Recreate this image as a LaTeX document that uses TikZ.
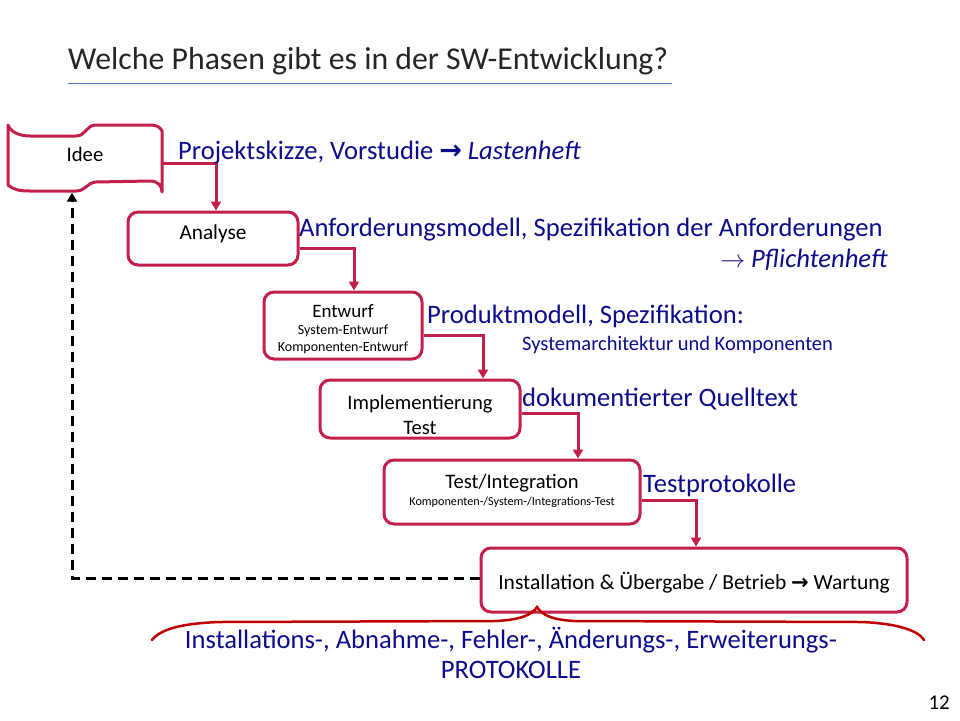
\documentclass[tikz,border=0pt]{standalone}
\usepackage{fontspec}
\setmainfont{Carlito}
\newfontfamily\arrowfont{DejaVu Sans}
\usetikzlibrary{arrows.meta,calc}
\definecolor{boxred}{RGB}{196,30,74}
\definecolor{navy}{RGB}{12,12,140}
\definecolor{bracered}{RGB}{192,0,0}
\definecolor{titlegray}{RGB}{38,38,38}
\definecolor{rulecol}{RGB}{79,129,189}
\begin{document}
\begin{tikzpicture}[x=1pt,y=-1pt,
  phase/.style={draw=boxred,line width=3pt,rounded corners=10pt,fill=white,inner sep=0pt},
  boxtxt/.style={inner sep=0pt,align=center,font=\fontsize{21}{24}\selectfont},
  conn/.style={draw=boxred,line width=3pt,-{Triangle[length=9pt,width=10pt]}},
  back/.style={draw=black,line width=3pt,dash pattern=on 10pt off 6pt,-{Triangle[length=9pt,width=10pt]}},
  bluetxt/.style={text=navy,inner sep=0pt,font=\fontsize{26.6}{30}\selectfont}]
\useasboundingbox[fill=white] (0,0) rectangle (960,720);

% title
\node[anchor=base west,inner sep=0pt,text=titlegray,font=\fontsize{31.8}{36}\selectfont] (title) at (68,69) {Welche Phasen gibt es in der SW-Entwicklung?};
\draw[rulecol,line width=1pt] (68,83) -- (672,83);

% Idee (tape shape)
\draw[boxred,line width=3pt,line join=round,fill=white] (8,125) -- (8,185) .. controls (14,190) and (20,191) .. (30,191) -- (76,191) .. controls (86,191) and (86,183) .. (96,182) -- (150,181) .. controls (158,181) and (162,186) .. (162,192) -- (162,131) .. controls (160,127) and (157,125) .. (150,125) -- (96,125) .. controls (86,125) and (86,136) .. (76,136) -- (30,136) .. controls (18,136) and (10,131) .. (8,125) -- cycle;
\node[minimum width=154pt,minimum height=68pt,inner sep=0pt] (idee) at (85,158.5) {};
\node[boxtxt,font=\fontsize{20.7}{24}\selectfont] (ideetxt) at ([yshift=4pt]idee.center) {Idee};

% phases
\node[phase,minimum width=170pt,minimum height=53pt] (analyse) at (213,238.5) {};
\node[boxtxt,font=\fontsize{21.3}{24}\selectfont] (analysetxt) at ([yshift=4.5pt]analyse.center) {Analyse};

\node[phase,minimum width=158pt,minimum height=67pt] (entwurf) at (343,325.5) {};
\node[boxtxt,font=\fontsize{14}{17}\selectfont] (entwurftxt) at ([yshift=-4pt]entwurf.center) {{\fontsize{19}{22}\selectfont Entwurf}\\System-Entwurf\\Komponenten-Entwurf};

\node[phase,minimum width=200pt,minimum height=58pt] (impl) at (420,409) {};
\node[boxtxt,font=\fontsize{20.6}{25}\selectfont] (impltxt) at ([yshift=-5.5pt]impl.center) {Implementierung\\Test};

\node[phase,minimum width=256pt,minimum height=64pt] (testint) at (512,492) {};
\node[boxtxt,font=\fontsize{12.2}{17}\selectfont] (testinttxt) at ([yshift=1.5pt]testint.center) {{\fontsize{20.6}{22}\selectfont Test/Integration}\\Komponenten-/System-/Integrations-Test};

\node[phase,minimum width=426pt,minimum height=64pt] (install) at (694,580) {};
\node[boxtxt,font=\fontsize{21.5}{24}\selectfont] (installtxt) at ([yshift=-2.5pt]install.center) {Installation \& Übergabe / Betrieb {\arrowfont\bfseries\fontsize{21}{24}\selectfont →} Wartung};

% connectors
\draw[conn] ([yshift=-5pt]idee.east) -| ([xshift=3pt]analyse.north);
\draw[conn] ([yshift=-9.5pt]analyse.east) -| ([xshift=11pt]entwurf.north);
\draw[conn] ([yshift=-9.5pt]entwurf.east) -| ([xshift=63pt]impl.north);
\draw[conn] ([yshift=-4pt]impl.east) -| ([xshift=66pt]testint.north);
\draw[conn] ([yshift=-8pt]testint.east) -| ([xshift=2pt]install.north);
\draw[back] ([yshift=2pt]install.west) -| ([xshift=-13pt]idee.south);

% brace
\draw[bracered,line width=2.5pt,line cap=round] (152,640) .. controls (162,627) and (190,623) .. (220,622) -- (495,621) .. controls (520,620) and (532,615) .. (537,607) .. controls (542,615) and (552,620) .. (575,621) -- (860,622) .. controls (895,623) and (918,630) .. (924,640);

% blue annotations
\node[bluetxt,anchor=base west] (t1) at (178,159) {Projektskizze, Vorstudie {\arrowfont\bfseries\fontsize{27}{30}\selectfont →} \textit{Lastenheft}};
\node[bluetxt,anchor=base west] (t2) at (299,236) {Anforderungsmodell, Spezifikation der Anforderungen};
\node[bluetxt,anchor=base east] (t3) at (888,267) {$\rightarrow$ \textit{Pflichtenheft}};
\node[bluetxt,anchor=base west] (t4) at (427,323) {Produktmodell, Spezifikation:};
\node[bluetxt,anchor=base west,font=\fontsize{20.5}{24}\selectfont] (t5) at (522,350) {Systemarchitektur und Komponenten};
\node[bluetxt,anchor=base west] (t6) at (522,406) {dokumentierter Quelltext};
\node[bluetxt,anchor=base west] (t7) at (643,492) {Testprotokolle};
\node[bluetxt,anchor=base] (t8) at (511,648) {Installations-, Abnahme-, Fehler-, Änderungs-, Erweiterungs-};
\node[bluetxt,anchor=base] (t9) at (511,678) {PROTOKOLLE};

% page number
\node[anchor=base east,inner sep=0pt,font=\fontsize{21}{24}\selectfont] (pnum) at (950,709) {12};
\end{tikzpicture}
\end{document}
